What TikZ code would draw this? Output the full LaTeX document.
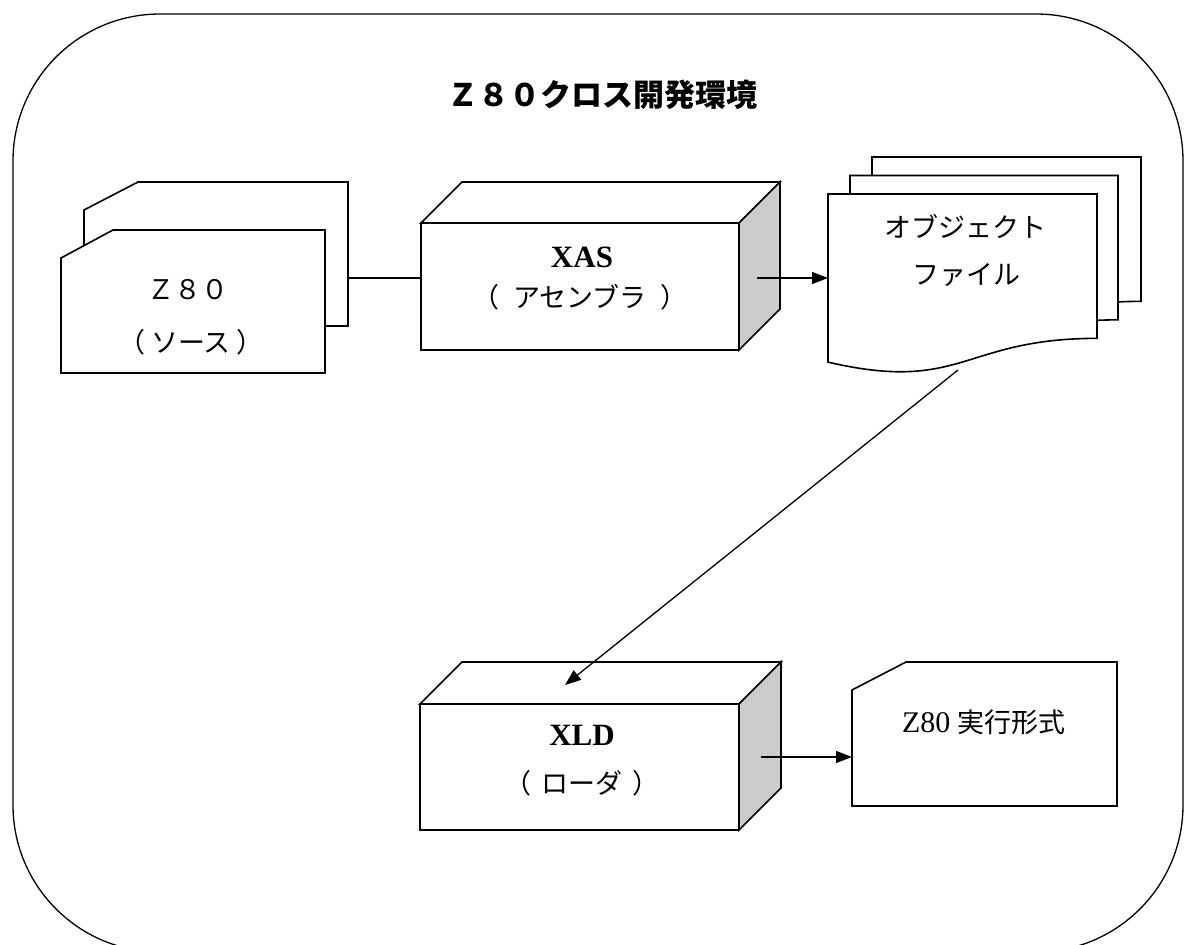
\documentclass[tikz,border=0pt]{standalone}
\usepackage{fontspec}
\setmainfont{Liberation Serif}
\newfontfamily\jp{Noto Sans CJK JP}
\usetikzlibrary{arrows.meta}
\definecolor{sidegray}{RGB}{204,204,204}
\tikzset{
  shp/.style={draw=black,line width=1.6pt,fill=white,line join=miter},
  sideface/.style={shp,fill=sidegray},
  outer/.style={draw=black,line width=1.3pt},
  conn/.style={draw=black,line width=1.3pt},
  arr/.style={conn,-{Triangle[length=16pt,width=12pt]}},
  jptext/.style={font=\jp\fontsize{27}{30}\selectfont,inner sep=0pt},
  titletext/.style={font=\jp\bfseries\fontsize{31}{34}\selectfont,inner sep=0pt},
  boldlabel/.style={font=\bfseries\fontsize{31}{33}\selectfont,inner sep=0pt},
  mixtext/.style={font=\fontsize{30}{32}\selectfont,inner sep=0pt}
}
% document sheet with wavy bottom: x y w h
\newcommand\docsheet[4]{%
  \path[shp] (#1,#2) -- ({#1+#3},#2) -- ({#1+#3},{#2+0.802*#4})
    .. controls ({#1+0.5*#3},{#2+0.802*#4}) and ({#1+0.5*#3},{#2+1.108*#4}) ..
    (#1,{#2+0.934*#4}) -- cycle;}
% punched card: x1 y1 x2 y2 cutx cuty
\newcommand\cardsheet[6]{%
  \path[shp] (#1,{#2+#6}) -- ({#1+#5},#2) -- (#3,#2) -- (#3,#4) -- (#1,#4) -- cycle;}
% 3d box: x1 y1 x2 y2 depth
\newcommand\boxthreed[5]{%
  \path[shp] (#1,#2) rectangle (#3,#4);
  \path[shp] (#1,#2) -- ({#1+#5},{#2-#5}) -- ({#3+#5},{#2-#5}) -- (#3,#2) -- cycle;
  \path[sideface] (#3,#2) -- ({#3+#5},{#2-#5}) -- ({#3+#5},{#4-#5}) -- (#3,#4) -- cycle;}
\begin{document}
\begin{tikzpicture}[x=1pt,y=-1pt]
\fill[white] (0,0) rectangle (1184,945);
\useasboundingbox (0,0) rectangle (1184,945);
% outer frame
\draw[outer,rounded corners=147pt] (13,14) rectangle (1183,952);
% title
\node[titletext] (title) at (602,95) {Ｚ８０クロス開発環境};
% source cards
\cardsheet{84}{182}{348}{326}{54}{28}
\cardsheet{61}{230}{325}{373}{52}{28}
\node[jptext] (src1) at (188,290) {Ｚ８０};
\node[jptext] (src2) at (191,342) {（\hspace{6pt}ソース\hspace{6pt}）};
% XAS box
\boxthreed{421}{223}{739}{350}{41}
\node[boldlabel] (xas1) at (582,257) {XAS};
\node[jptext] (xas2) at (580,297) {（\hspace{14pt}アセンブラ\hspace{14pt}）};
% object files
\docsheet{872}{157}{269}{180}
\docsheet{850}{175.5}{268}{180}
\docsheet{828}{194}{269}{180}
\node[jptext] (obj1) at (965,227) {オブジェクト};
\node[jptext] (obj2) at (966,275) {ファイル};
% XLD box
\boxthreed{420}{704}{739}{830}{42}
\node[boldlabel] (xld1) at (582,735) {XLD};
\node[jptext] (xld2) at (582,783) {（\hspace{10pt}ローダ\hspace{10pt}）};
% executable card
\cardsheet{852}{662}{1117}{806}{54}{28}
\node[mixtext] (exe) at (984,722) {Z80 {\jp\fontsize{27}{30}\selectfont 実行形式}};
% connector end points
\coordinate (srcR) at (348,278);
\coordinate (xasL) at (421,278);
\coordinate (xasOut) at (757,278);
\coordinate (objIn) at (828,278);
\coordinate (objOut) at (958,370);
\coordinate (xldIn) at (565,685);
\coordinate (xldOut) at (761,757);
\coordinate (exeIn) at (852,757);
\draw[conn] (srcR) -- (xasL);
\draw[arr] (xasOut) -- (objIn);
\draw[arr] (objOut) -- (xldIn);
\draw[arr] (xldOut) -- (exeIn);
\end{tikzpicture}
\end{document}
